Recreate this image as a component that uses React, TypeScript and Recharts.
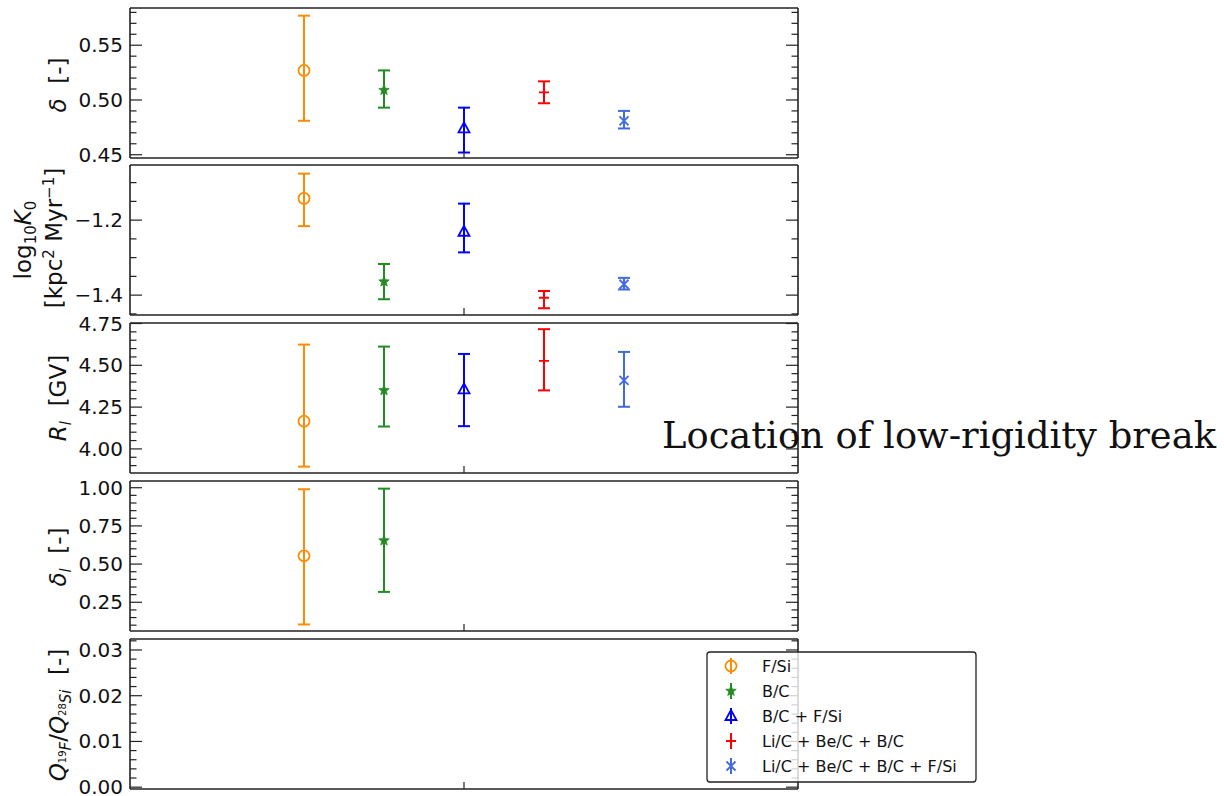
import React from 'react';
import { ScatterChart, Scatter, XAxis, YAxis, ErrorBar } from 'recharts';

// fit configurations, left to right
const configs = ['F/Si', 'B/C', 'B/C + F/Si', 'Li/C + Be/C + B/C', 'Li/C + Be/C + B/C + F/Si'];
const configX = [-0.4, -0.2, 0, 0.2, 0.4];
const configColors = ['#ff8c00', '#228b22', '#0000ff', '#ff0000', '#4169e1'];
const configMarkers = ['circle', 'star', 'triangle', 'plus', 'x'];

// best fit value and interval bounds (null = parameter not in that fit)
const delta = [0.527, 0.509, 0.474, 0.507, 0.481];
const deltaLo = [0.481, 0.493, 0.452, 0.497, 0.474];
const deltaHi = [0.577, 0.527, 0.493, 0.517, 0.49];

const logK0 = [-1.142, -1.364, -1.231, -1.407, -1.371];
const logK0Lo = [-1.216, -1.411, -1.286, -1.435, -1.385];
const logK0Hi = [-1.076, -1.317, -1.156, -1.389, -1.354];

const rigBreak = [4.166, 4.35, 4.356, 4.526, 4.41];
const rigBreakLo = [3.894, 4.134, 4.136, 4.35, 4.252];
const rigBreakHi = [4.624, 4.612, 4.568, 4.716, 4.58];

const deltaLow = [0.554, 0.654, null, null, null];
const deltaLowLo = [0.105, 0.318, null, null, null];
const deltaLowHi = [0.99, 0.994, null, null, null];

const qRatio: (number | null)[] = [null, null, null, null, null];
const qRatioLo: (number | null)[] = [null, null, null, null, null];
const qRatioHi: (number | null)[] = [null, null, null, null, null];

// y axis ticks
const deltaTicks = [0.45, 0.5, 0.55];
const deltaTickLabels = ['0.45', '0.50', '0.55'];
const logK0Ticks = [-1.4, -1.2];
const logK0TickLabels = ['\u22121.4', '\u22121.2'];
const rigTicks = [4.0, 4.25, 4.5, 4.75];
const rigTickLabels = ['4.00', '4.25', '4.50', '4.75'];
const deltaLowTicks = [0.25, 0.5, 0.75, 1.0];
const deltaLowTickLabels = ['0.25', '0.50', '0.75', '1.00'];
const qTicks = [0, 0.01, 0.02, 0.03];
const qTickLabels = ['0.00', '0.01', '0.02', '0.03'];

const xDomain = [-0.835, 0.835];
const xTicks = [0];

const FONT = 'DejaVu Sans';
const FRAME = { stroke: '#222', strokeWidth: 1.6 };
const NB = '\u00a0';

type PanelDef = {
  top: number;
  domain: [number, number];
  ticks: number[];
  labels: string[];
  minorStep: number;
  val: (number | null)[];
  lo: (number | null)[];
  hi: (number | null)[];
};

const panels: PanelDef[] = [
  { top: 8, domain: [0.447, 0.584], ticks: deltaTicks, labels: deltaTickLabels, minorStep: 0.01, val: delta, lo: deltaLo, hi: deltaHi },
  { top: 165, domain: [-1.453, -1.053], ticks: logK0Ticks, labels: logK0TickLabels, minorStep: 0.05, val: logK0, lo: logK0Lo, hi: logK0Hi },
  { top: 323, domain: [3.856, 4.753], ticks: rigTicks, labels: rigTickLabels, minorStep: 0.05, val: rigBreak, lo: rigBreakLo, hi: rigBreakHi },
  { top: 481, domain: [0.062, 1.044], ticks: deltaLowTicks, labels: deltaLowTickLabels, minorStep: 0.05, val: deltaLow, lo: deltaLowLo, hi: deltaLowHi },
  { top: 639, domain: [-0.0004, 0.0324], ticks: qTicks, labels: qTickLabels, minorStep: 0.002, val: qRatio, lo: qRatioLo, hi: qRatioHi },
];

function allTicks(p: PanelDef) {
  const out: number[] = [];
  const start = Math.ceil(p.domain[0] / p.minorStep - 1e-6);
  const end = Math.floor(p.domain[1] / p.minorStep + 1e-6);
  for (let k = start; k <= end; k++) out.push(Math.round(k * p.minorStep * 1e6) / 1e6);
  return out;
}

function majorIndex(p: PanelDef, v: number) {
  return p.ticks.findIndex((t) => Math.abs(t - v) < 1e-7);
}

function Marker({ kind, cx, cy, color }: { kind: string; cx: number; cy: number; color: string }) {
  if (kind === 'circle') return <circle cx={cx} cy={cy} r={5.5} fill="none" stroke={color} strokeWidth={1.8} />;
  if (kind === 'star') {
    const pts: string[] = [];
    for (let k = 0; k < 10; k++) {
      const r = k % 2 === 0 ? 5.5 : 2.3;
      const a = -Math.PI / 2 + (k * Math.PI) / 5;
      pts.push(`${cx + r * Math.cos(a)},${cy + r * Math.sin(a)}`);
    }
    return <polygon points={pts.join(' ')} fill={color} stroke={color} strokeWidth={0.8} />;
  }
  if (kind === 'triangle')
    return <polygon points={`${cx},${cy - 6} ${cx - 5.5},${cy + 4} ${cx + 5.5},${cy + 4}`} fill="none" stroke={color} strokeWidth={1.8} />;
  if (kind === 'plus')
    return <path d={`M${cx - 5},${cy}H${cx + 5}M${cx},${cy - 5}V${cy + 5}`} stroke={color} strokeWidth={1.8} fill="none" />;
  return (
    <path d={`M${cx - 4.5},${cy - 4.5}L${cx + 4.5},${cy + 4.5}M${cx - 4.5},${cy + 4.5}L${cx + 4.5},${cy - 4.5}`} stroke={color} strokeWidth={1.8} fill="none" />
  );
}

function Panel({ p }: { p: PanelDef }) {
  const ticks = allTicks(p);
  const leftTick = (props: any) => {
    const { x, y, payload } = props;
    const mi = majorIndex(p, payload.value);
    return (
      <g>
        <line x1={x} x2={x + (mi >= 0 ? 12 : 6.5)} y1={y} y2={y} stroke="#222" strokeWidth={1.2} />
        {mi >= 0 && (
          <text x={x - 7} y={y} textAnchor="end" dominantBaseline="central" fontSize={20} fontFamily={FONT} fill="#111">
            {p.labels[mi]}
          </text>
        )}
      </g>
    );
  };
  const rightTick = (props: any) => {
    const { x, y, payload } = props;
    const mi = majorIndex(p, payload.value);
    return <line x1={x} x2={x - (mi >= 0 ? 12 : 6.5)} y1={y} y2={y} stroke="#222" strokeWidth={1.2} />;
  };
  const topTick = (props: any) => <line x1={props.x} x2={props.x} y1={props.y} y2={props.y + 7} stroke="#222" strokeWidth={1.2} />;
  const bottomTick = (props: any) => <line x1={props.x} x2={props.x} y1={props.y} y2={props.y - 7} stroke="#222" strokeWidth={1.2} />;

  return (
    <div style={{ position: 'absolute', left: 0, top: p.top - 10 }}>
      <ScatterChart width={820} height={170} margin={{ top: 9, right: 21, bottom: 9, left: 129 }}>
        <XAxis xAxisId="b" dataKey="x" type="number" domain={xDomain} ticks={xTicks} allowDataOverflow height={1}
          tickSize={0} tickMargin={0} tickLine={false} axisLine={FRAME} tick={bottomTick} interval={0} />
        <XAxis xAxisId="t" orientation="top" type="number" domain={xDomain} ticks={xTicks} allowDataOverflow height={1}
          tickSize={0} tickMargin={0} tickLine={false} axisLine={FRAME} tick={topTick} interval={0} />
        <YAxis yAxisId="l" dataKey="y" type="number" domain={p.domain} ticks={ticks} allowDataOverflow width={1}
          tickSize={0} tickMargin={0} tickLine={false} axisLine={FRAME} tick={leftTick} interval={0} />
        <YAxis yAxisId="r" orientation="right" type="number" domain={p.domain} ticks={ticks} allowDataOverflow width={1}
          tickSize={0} tickMargin={0} tickLine={false} axisLine={FRAME} tick={rightTick} interval={0} />
        {configs.map((name, i) => {
          const v = p.val[i];
          const lo = p.lo[i];
          const hi = p.hi[i];
          if (v === null || lo === null || hi === null) return null;
          const data = [{ x: configX[i], y: v, err: [v - lo, hi - v] }];
          return (
            <Scatter key={name} name={name} data={data} xAxisId="b" yAxisId="l" isAnimationActive={false}
              shape={(s: any) => <Marker kind={configMarkers[i]} cx={s.cx} cy={s.cy} color={configColors[i]} />}>
              <ErrorBar dataKey="err" direction="y" width={6} stroke={configColors[i]} strokeWidth={2} isAnimationActive={false} />
            </Scatter>
          );
        })}
      </ScatterChart>
    </div>
  );
}

function RotLabel({ x, y, children }: { x: number; y: number; children: React.ReactNode }) {
  return (
    <text x={x} y={y} transform={`rotate(-90 ${x} ${y})`} textAnchor="middle" fontSize={23} fontFamily={FONT} fill="#111">
      {children}
    </text>
  );
}

function Overlay() {
  const rowY = [666, 691, 716, 741, 766];
  return (
    <svg width={1224} height={796} style={{ position: 'absolute', left: 0, top: 0, pointerEvents: 'none' }}>
      <RotLabel x={66} y={85}>
        <tspan fontStyle="italic">δ</tspan>
        <tspan>{NB + NB + '[-]'}</tspan>
      </RotLabel>
      <RotLabel x={31} y={240}>
        <tspan>log</tspan>
        <tspan fontSize={15} dy={5}>10</tspan>
        <tspan fontStyle="italic" dy={-5}>K</tspan>
        <tspan fontSize={15} dy={5}>0</tspan>
      </RotLabel>
      <RotLabel x={62} y={238}>
        <tspan>[kpc</tspan>
        <tspan fontSize={15} dy={-8}>2</tspan>
        <tspan dy={8}>{NB + 'Myr'}</tspan>
        <tspan fontSize={15} dy={-8}>{'\u22121'}</tspan>
        <tspan dy={8}>]</tspan>
      </RotLabel>
      <RotLabel x={66} y={398}>
        <tspan fontStyle="italic">R</tspan>
        <tspan fontStyle="italic" fontSize={15} dy={5}>l</tspan>
        <tspan dy={-5}>{NB + NB + '[GV]'}</tspan>
      </RotLabel>
      <RotLabel x={66} y={557}>
        <tspan fontStyle="italic">δ</tspan>
        <tspan fontStyle="italic" fontSize={15} dy={5}>l</tspan>
        <tspan dy={-5}>{NB + NB + '[-]'}</tspan>
      </RotLabel>
      <RotLabel x={66} y={715}>
        <tspan fontStyle="italic">Q</tspan>
        <tspan fontSize={10} dy={0}>19</tspan>
        <tspan fontStyle="italic" fontSize={15} dy={5}>F</tspan>
        <tspan dy={-5}>/</tspan>
        <tspan fontStyle="italic">Q</tspan>
        <tspan fontSize={10} dy={0}>28</tspan>
        <tspan fontStyle="italic" fontSize={15} dy={5}>Si</tspan>
        <tspan dy={-5}>{NB + NB + '[-]'}</tspan>
      </RotLabel>

      <text x={662} y={448} fontSize={38} fontFamily="DejaVu Serif" fill="#111" textLength={554} lengthAdjust="spacingAndGlyphs">
        Location of low-rigidity break
      </text>

      <rect x={707} y={652} width={269} height={130} rx={3} fill="#fff" fillOpacity={0.8} stroke="#222" strokeWidth={1.3} />
      {configs.map((name, i) => (
        <g key={name}>
          <line x1={731} x2={731} y1={rowY[i] - 8} y2={rowY[i] + 8} stroke={configColors[i]} strokeWidth={2} />
          <Marker kind={configMarkers[i]} cx={731} cy={rowY[i]} color={configColors[i]} />
          <text x={762} y={rowY[i]} dominantBaseline="central" fontSize={16} fontFamily={FONT} fill="#111">
            {name}
          </text>
        </g>
      ))}
    </svg>
  );
}

export default function App() {
  return (
    <div style={{ position: 'absolute', left: 0, top: 0, width: 1224, height: 796, background: '#fff' }}>
      {panels.map((p, i) => (
        <Panel key={i} p={p} />
      ))}
      <Overlay />
    </div>
  );
}
